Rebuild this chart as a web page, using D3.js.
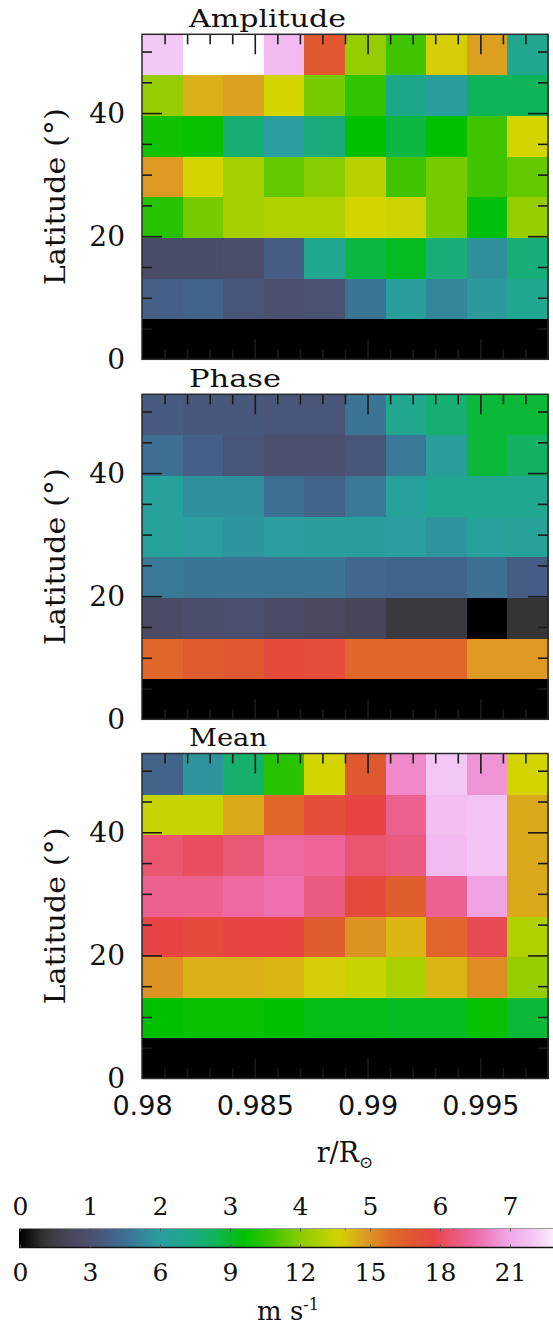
<!DOCTYPE html>
<html><head><meta charset="utf-8">
<script src="https://cdn.jsdelivr.net/npm/d3@7"></script>
<style>
html,body{margin:0;padding:0;background:#fff;}
svg{display:block;}
</style></head>
<body>
<svg id="chart" width="553" height="1328"></svg>
<script>
// ---------------- DATA ----------------
// column centres (r / R_sun), bin width 0.0018
const radii = [0.9809, 0.9827, 0.9845, 0.9863, 0.9881, 0.9899, 0.9917, 0.9935, 0.9953, 0.9971];
// latitude bin centres (deg), bin width 6.6
const latitudes = [3.3, 9.9, 16.5, 23.1, 29.7, 36.3, 42.9, 49.5];
// values in colour-bar units (top scale 0-8); rows follow `latitudes`
const amplitude = [
  [0,0,0,0,0,0,0,0,0,0],
  [1.3,1.35,1.1,1.0,1.05,1.55,2.05,1.75,1.95,2.3],
  [0.9,0.9,0.95,1.25,2.3,2.9,3.05,2.55,1.85,2.55],
  [3.45,3.9,4.2,4.3,4.3,4.55,4.5,3.9,3.15,4.1],
  [4.95,4.55,4.2,3.8,4.0,4.35,3.6,3.9,3.6,3.8],
  [3.3,3.25,2.6,2.0,2.5,3.2,2.9,3.2,3.6,4.55],
  [4.1,4.8,4.9,4.55,3.9,3.5,2.4,2.05,2.8,2.8],
  [7.35,8.0,8.0,7.2,5.6,4.1,3.6,4.6,4.9,2.3]
];
const phase = [
  [0,0,0,0,0,0,0,0,0,0],
  [5.35,5.55,5.6,5.8,5.75,5.35,5.35,5.35,4.95,4.95],
  [0.85,0.95,1.0,0.85,0.75,0.7,0.45,0.45,0,0.35],
  [1.6,1.55,1.55,1.55,1.55,1.4,1.35,1.35,1.5,1.25],
  [2.1,2.0,1.9,2.0,2.05,2.05,2.0,1.9,2.1,2.15],
  [2.1,1.85,1.85,1.5,1.35,1.6,2.1,2.3,2.3,2.3],
  [1.5,1.3,1.1,1.0,1.0,1.1,1.6,2.05,2.95,2.7],
  [1.2,1.15,1.15,1.1,1.1,1.55,2.3,2.6,2.95,2.95]
];
const mean = [
  [0,0,0,0,0,0,0,0,0,0],
  [3.2,3.25,3.25,3.2,3.1,3.1,3.05,3.05,3.25,2.95],
  [5.0,4.8,4.8,4.75,4.6,4.45,4.25,4.75,5.05,4.1],
  [5.9,5.8,5.9,5.9,5.5,5.0,4.75,5.4,6.0,4.3],
  [6.35,6.35,6.45,6.55,6.25,5.8,5.5,6.35,6.95,4.85],
  [6.15,6.05,6.2,6.45,6.4,6.15,6.25,7.2,7.3,4.85],
  [4.45,4.45,4.85,5.35,5.75,5.9,6.35,7.25,7.3,4.85],
  [1.35,1.9,2.65,3.45,4.55,5.6,6.75,7.35,6.85,4.55]
];
const panelTitles = ["Amplitude", "Phase", "Mean"];
const xTickLabels = [0.98, 0.985, 0.99, 0.995];
const yTickLabels = [0, 20, 40];
const cbTopLabels = [0, 1, 2, 3, 4, 5, 6, 7];
const cbBottomLabels = [0, 3, 6, 9, 12, 15, 18, 21];
const cbExtraTicks = [1.57, 4.64, 6.19];
// colour map stops
const cmapValues = [0, 0.35, 0.7, 1.0, 1.3, 1.6, 2.0, 2.4, 2.8, 3.2, 3.6, 4.0, 4.55, 4.9, 5.3, 5.6, 5.9, 6.2, 6.5, 7.0, 7.35, 7.75];
const cmapColors = ["#000000","#353535","#47475a","#4c5070","#446088","#3a7898","#2a9ea0","#1ea88a","#10b458","#00c000","#40c400","#88cc00","#d4d400","#dca020","#e06a28","#e05830","#e84444","#ea5878","#ee6aa8","#f0a8ea","#f4c8f4","#ffffff"];

// ---------------- LAYOUT ----------------
const svg = d3.select("#chart");
const serif = "'DejaVu Serif', serif";
const sans = "'DejaVu Sans', sans-serif";
const plotLeft = 142, plotRight = 548, panelH = 325;
const panelTops = [34.3, 394.3, 753.5];
const dR = 0.0018, dLat = 6.6;

const color = d3.scaleLinear().domain(cmapValues).range(cmapColors).interpolate(d3.interpolateRgb).clamp(true);
const x = d3.scaleLinear().domain([0.98, 0.998]).range([plotLeft, plotRight]);

const xMinor = d3.range(981, 998).map(v => v / 1000).filter(v => Math.round(v * 1000) % 5 !== 0);
const xMajor = [0.985, 0.99, 0.995];
const yMinor = [5, 10, 15, 25, 30, 35, 45, 50];
const yMajor = [20, 40];

const datasets = [amplitude, phase, mean];

datasets.forEach((data, p) => {
  const top = panelTops[p];
  const y = d3.scaleLinear().domain([0, 52.8]).range([top + panelH, top]);
  const g = svg.append("g");

  // cells
  const cells = [];
  data.forEach((row, i) => row.forEach((v, j) => cells.push({lat: latitudes[i], r: radii[j], v})));
  g.selectAll("rect.cell").data(cells).join("rect")
    .attr("class", "cell")
    .attr("x", d => x(d.r - dR / 2))
    .attr("width", d => x(d.r + dR / 2) - x(d.r - dR / 2) + 0.5)
    .attr("y", d => y(d.lat + dLat / 2))
    .attr("height", d => y(d.lat - dLat / 2) - y(d.lat + dLat / 2) + 0.5)
    .attr("fill", d => color(d.v))
    .attr("shape-rendering", "crispEdges");

  // ticks (inward)
  const tickStyle = sel => {
    sel.select(".domain").remove();
    sel.selectAll(".tick line").attr("stroke", "#1a1a1a").attr("stroke-width", 1.6);
    sel.selectAll(".tick text").remove();
  };
  const top0 = y(52.8), bot0 = y(0);
  [[xMinor, 10], [xMajor, 20]].forEach(([vals, len]) => {
    g.append("g").attr("transform", `translate(0,${top0})`)
      .call(d3.axisTop(x).tickValues(vals).tickSize(-len)).call(tickStyle);
    g.append("g").attr("transform", `translate(0,${bot0})`)
      .call(d3.axisBottom(x).tickValues(vals).tickSize(-len)).call(tickStyle);
  });
  [[yMinor, 10], [yMajor, 20]].forEach(([vals, len]) => {
    g.append("g").attr("transform", `translate(${plotLeft},0)`)
      .call(d3.axisLeft(y).tickValues(vals).tickSize(-len)).call(tickStyle);
    g.append("g").attr("transform", `translate(${plotRight},0)`)
      .call(d3.axisRight(y).tickValues(vals).tickSize(-len)).call(tickStyle);
  });

  // frame
  g.append("rect")
    .attr("x", plotLeft).attr("y", top0)
    .attr("width", plotRight - plotLeft).attr("height", bot0 - top0)
    .attr("fill", "none").attr("stroke", "#2a2a2a").attr("stroke-width", 1.5);

  // y tick labels
  const yl = g.append("g").attr("transform", `translate(${plotLeft},0)`)
    .call(d3.axisLeft(y).tickValues(yTickLabels).tickSize(0).tickPadding(17).tickFormat(d3.format("d")));
  yl.select(".domain").remove();
  yl.selectAll("text").attr("font-family", serif).attr("font-size", 28).attr("fill", "#111");

  // y axis title
  g.append("text")
    .attr("transform", `translate(65,${(top0 + bot0) / 2}) rotate(-90)`)
    .attr("text-anchor", "middle")
    .attr("font-family", serif).attr("font-size", 28).attr("fill", "#111")
    .attr("textLength", 177).attr("lengthAdjust", "spacingAndGlyphs")
    .text("Latitude (°)");

  // panel title
  const tl = [157, 92, 78][p];
  g.append("text")
    .attr("x", 189).attr("y", top0 - 7.5)
    .attr("font-family", serif).attr("font-size", 25).attr("fill", "#111")
    .attr("textLength", tl).attr("lengthAdjust", "spacingAndGlyphs")
    .text(panelTitles[p]);

  // x tick labels on bottom panel
  if (p === datasets.length - 1) {
    const xl = g.append("g").attr("transform", `translate(0,${bot0})`)
      .call(d3.axisBottom(x).tickValues(xTickLabels).tickSize(0).tickPadding(17).tickFormat(d => String(d)));
    xl.select(".domain").remove();
    xl.selectAll("text").attr("font-family", sans).attr("font-size", 27).attr("fill", "#111");

    const xt = g.append("text")
      .attr("x", (plotLeft + plotRight) / 2).attr("y", 1162)
      .attr("text-anchor", "middle")
      .attr("font-family", serif).attr("font-size", 27).attr("fill", "#111");
    xt.append("tspan").text("r/R");
    xt.append("tspan").attr("font-size", 17).attr("dy", 6).text("⊙");
  }
});

// ---------------- COLOUR BAR ----------------
const cb = d3.scaleLinear().domain([0, 8]).range([20, 580]);
const cbTop = 1228.5, cbH = 19;
const defs = svg.append("defs");
const grad = defs.append("linearGradient").attr("id", "cbgrad")
  .attr("gradientUnits", "userSpaceOnUse")
  .attr("x1", cb(0)).attr("x2", cb(8)).attr("y1", 0).attr("y2", 0);
d3.range(0, 8.001, 0.1).forEach(v => {
  grad.append("stop").attr("offset", (v / 8 * 100) + "%").attr("stop-color", color(v));
});
svg.append("rect")
  .attr("x", cb(0) - 1).attr("y", cbTop).attr("width", cb(8) - cb(0) + 1).attr("height", cbH)
  .attr("fill", "url(#cbgrad)");
svg.append("line").attr("x1", cb(0) - 1).attr("x2", cb(8)).attr("y1", cbTop + cbH).attr("y2", cbTop + cbH)
  .attr("stroke", "#111").attr("stroke-width", 1.5);
svg.append("line").attr("x1", cb(0) - 1).attr("x2", cb(8)).attr("y1", cbTop).attr("y2", cbTop)
  .attr("stroke", "#999").attr("stroke-width", 1);

const cbt = svg.append("g").attr("transform", `translate(0,${cbTop})`)
  .call(d3.axisTop(cb).tickValues(cbTopLabels).tickSize(-3).tickPadding(14).tickFormat(d3.format("d")));
cbt.select(".domain").remove();
cbt.selectAll(".tick line").attr("stroke", "#555");
cbt.selectAll("text").attr("font-family", serif).attr("font-size", 25).attr("fill", "#111");

const cbx = svg.append("g").attr("transform", `translate(0,${cbTop})`)
  .call(d3.axisTop(cb).tickValues(cbExtraTicks).tickSize(-2).tickFormat(""));
cbx.select(".domain").remove();
cbx.selectAll(".tick line").attr("stroke", "#666");

const cbb = svg.append("g").attr("transform", `translate(0,${cbTop + cbH})`)
  .call(d3.axisBottom(cb).tickValues(cbTopLabels).tickSize(-3).tickPadding(16)
    .tickFormat((d, i) => String(cbBottomLabels[i])));
cbb.select(".domain").remove();
cbb.selectAll(".tick line").attr("stroke", "#555");
cbb.selectAll("text").attr("font-family", serif).attr("font-size", 25).attr("fill", "#111");

const unit = svg.append("text")
  .attr("x", 288).attr("y", 1320).attr("text-anchor", "middle")
  .attr("font-family", serif).attr("font-size", 26).attr("fill", "#111");
unit.append("tspan").text("m s");
unit.append("tspan").attr("font-size", 16).attr("dy", -10).text("-1");
</script>
</body></html>
